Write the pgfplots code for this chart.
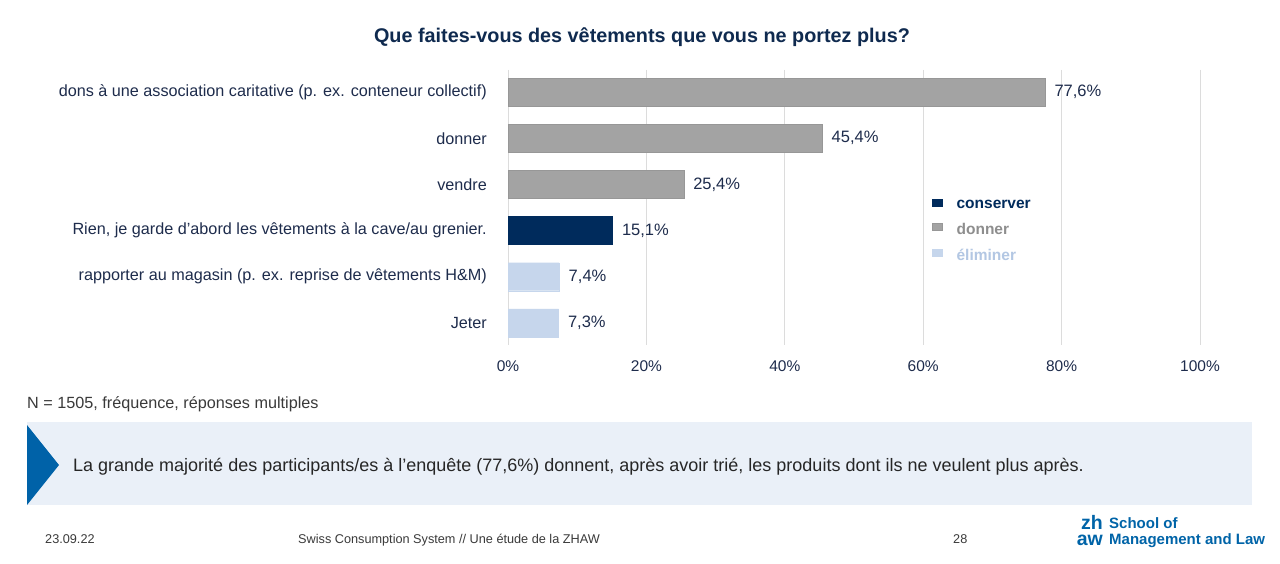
\documentclass[border=0pt]{standalone}
\usepackage{fontspec}
\setmainfont{Liberation Sans}
\usepackage{pgfplots}
\pgfplotsset{compat=1.18}

\definecolor{navy}{HTML}{002B5C}
\definecolor{titlenavy}{HTML}{0F2A4F}
\definecolor{textnavy}{HTML}{1E2C4C}
\definecolor{bargray}{HTML}{A3A3A3}
\definecolor{baredge}{HTML}{979797}
\definecolor{lightblue}{HTML}{C6D6EC}
\definecolor{legblue}{HTML}{B3C7E3}
\definecolor{leggray}{HTML}{8E8E8E}
\definecolor{gridgray}{HTML}{DCDCDC}
\definecolor{boxbg}{HTML}{EAF0F8}
\definecolor{triblue}{HTML}{0062A8}
\definecolor{logoblue}{HTML}{0064A8}
\definecolor{foot}{HTML}{3A3A3A}

\begin{document}
\begin{tikzpicture}
\path[use as bounding box, fill=white] (0pt,0pt) rectangle (1280pt,563pt);

% title
\node[font=\bfseries\fontsize{19.8}{23}\selectfont, text=titlenavy] at (642pt,526pt)
  {Que faites-vous des vêtements que vous ne portez plus?};

\begin{axis}[
  at={(508pt,218pt)}, anchor=south west,
  scale only axis, width=692pt, height=275pt,
  xbar, bar width=28pt, bar shift=0pt,
  xmin=0, xmax=100, ymin=-0.48, ymax=5.48, y dir=reverse,
  axis line style={draw=none}, major tick length=0pt,
  xtick={0,20,40,60,80,100},
  xticklabel={\pgfmathprintnumber{\tick}\%},
  xticklabel style={font=\fontsize{15.5}{18}\selectfont, text=textnavy, inner sep=0pt, yshift=-15pt},
  xmajorgrids, grid style={gridgray, line width=1pt},
  ytick={0,1,2,3,4,5},
  yticklabels={dons à une association caritative (p. ex. conteneur collectif),
    donner, vendre,
    {Rien, je garde d’abord les vêtements à la cave/au grenier.},
    rapporter au magasin (p. ex. reprise de vêtements H\&M),
    Jeter},
  yticklabel style={font=\fontsize{16.2}{19}\selectfont, text=textnavy, inner sep=0pt, anchor=east, xshift=-21pt},
  /pgf/number format/assume math mode=true,
  point meta=x,
  nodes near coords={\pgfmathprintnumber[fixed,fixed zerofill,precision=1,use comma]{\pgfplotspointmeta}\%},
  nodes near coords align=horizontal,
  every node near coord/.append style={font=\fontsize{16.5}{19}\selectfont, text=textnavy, xshift=6pt},
  legend style={at={(0.613,0.535)}, anchor=north west, draw=none, fill=none,
    font=\bfseries\fontsize{15.5}{18}\selectfont, row sep=9pt, inner sep=0pt},
  legend cell align=left,
  legend image code/.code={\fill[#1] (0pt,-1pt) rectangle (10pt,6pt); \path[draw=none,fill=none] (0pt,0pt) -- (22pt,0pt);},
]
\addplot[fill=navy, draw=navy] coordinates {(15.1,3)};
\addlegendentry{\textcolor{navy}{conserver}}
\addplot[fill=bargray, draw=baredge] coordinates {(77.6,0) (45.4,1) (25.4,2)};
\addlegendentry{\textcolor{leggray}{donner}}
\addplot[fill=lightblue, draw=lightblue] coordinates {(7.4,4) (7.3,5)};
\addlegendentry{\textcolor{legblue}{éliminer}}
\end{axis}

% note
\node[anchor=base west, inner sep=0pt, font=\fontsize{16.2}{19}\selectfont, text=foot] at (27pt,155pt)
  {N = 1505, fréquence, réponses multiples};

% key message box
\fill[boxbg] (27pt,58pt) rectangle (1252pt,141pt);
\fill[triblue] (27pt,138pt) -- (59pt,98pt) -- (27pt,58pt) -- cycle;
\node[anchor=base west, inner sep=0pt, font=\fontsize{18}{21}\selectfont, text=black!85] at (73pt,92pt)
  {La grande majorité des participants/es à l’enquête (77,6\%) donnent, après avoir trié, les produits dont ils ne veulent plus après.};

% footer
\node[anchor=base west, inner sep=0pt, font=\fontsize{12.7}{15}\selectfont, text=foot] at (45pt,20pt) {23.09.22};
\node[anchor=base west, inner sep=0pt, font=\fontsize{12.7}{15}\selectfont, text=foot] at (298pt,20pt)
  {Swiss Consumption System // Une étude de la ZHAW};
\node[anchor=base west, inner sep=0pt, font=\fontsize{12.7}{15}\selectfont, text=foot] at (953pt,20pt) {28};

% logo
\node[anchor=base east, align=right, inner sep=0pt, font=\bfseries\fontsize{19.5}{16}\selectfont, text=logoblue] at (1103pt,18pt) {zh\\aw};
\node[anchor=base west, align=left, inner sep=0pt, font=\bfseries\fontsize{15}{16}\selectfont, text=logoblue] at (1109pt,19pt) {School of\\Management and Law};
\end{tikzpicture}
\end{document}
